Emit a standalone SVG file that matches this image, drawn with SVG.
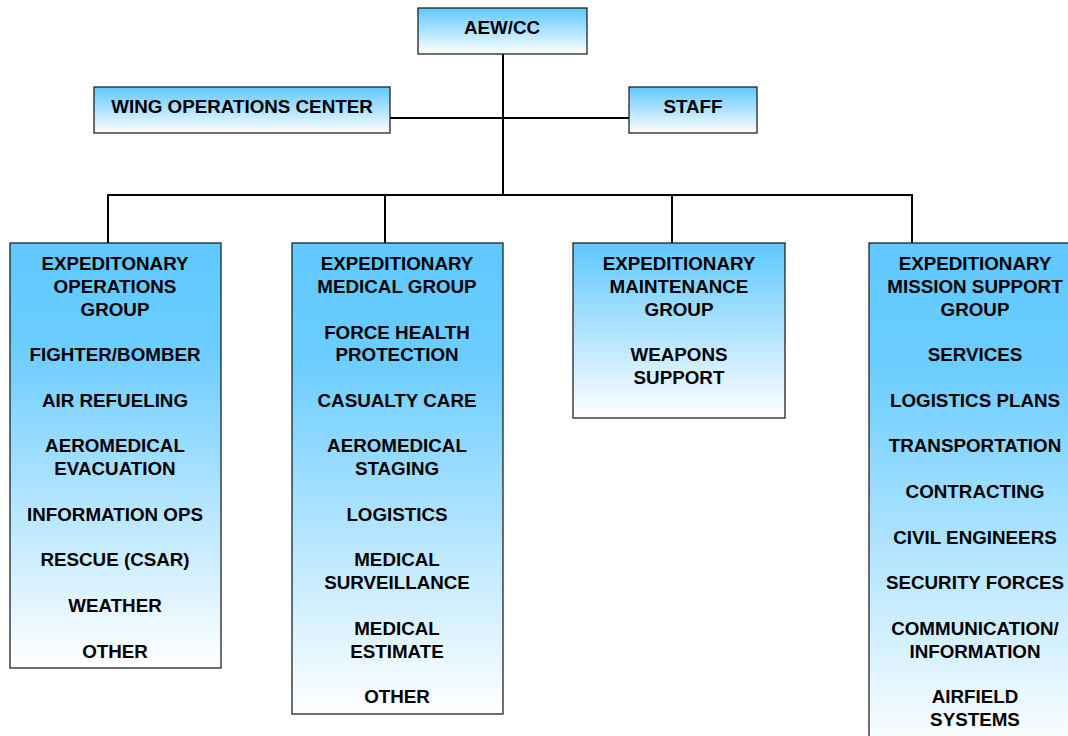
<svg xmlns="http://www.w3.org/2000/svg" width="1068" height="736" viewBox="0 0 1068 736">
<defs>
<linearGradient id="g" x1="0" y1="0" x2="0" y2="1">
<stop offset="0" stop-color="#5FC8FF"/>
<stop offset="1" stop-color="#FFFFFF"/>
</linearGradient>
<linearGradient id="gt" x1="0" y1="0" x2="0" y2="1">
<stop offset="0" stop-color="#5FC8FF"/>
<stop offset="0.25" stop-color="#6CCDFF"/>
<stop offset="1" stop-color="#FFFFFF"/>
</linearGradient>
</defs>
<style>
.s,.t{stroke:#222;stroke-width:1.3}
.s{fill:url(#g)}
.t{fill:url(#gt)}
text{font-family:"Liberation Sans",Arial,sans-serif;font-weight:bold;font-size:18.8px;fill:#000;text-anchor:middle}
.c path{fill:none;stroke:#000;stroke-width:2}
</style>
<rect width="1068" height="736" fill="#fff"/>
<g class="c" id="connectors">
<path d="M503 54V195"/>
<path d="M390 118H629"/>
<path d="M108 243V195H912V243"/>
<path d="M385 195V243"/>
<path d="M672 195V243"/>
</g>
<g id="aew"><rect class="s" x="418" y="8" width="169" height="46"/><text x="502" y="34">AEW/CC</text></g>
<g id="woc"><rect class="s" x="94" y="87" width="296" height="46"/><text x="242" y="113">WING OPERATIONS CENTER</text></g>
<g id="staff"><rect class="s" x="629" y="87" width="128" height="46"/><text x="693" y="113">STAFF</text></g>
<g id="eog"><rect class="t" x="10" y="243" width="211" height="425"/>
<text x="115" y="270">EXPEDITONARY</text><text x="115" y="293">OPERATIONS</text><text x="115" y="316">GROUP</text>
<text x="115" y="361">FIGHTER/BOMBER</text><text x="115" y="407">AIR REFUELING</text>
<text x="115" y="452">AEROMEDICAL</text><text x="115" y="475">EVACUATION</text>
<text x="115" y="521">INFORMATION OPS</text><text x="115" y="566">RESCUE (CSAR)</text>
<text x="115" y="612">WEATHER</text><text x="115" y="658">OTHER</text></g>
<g id="emg"><rect class="t" x="292" y="243" width="211" height="471"/>
<text x="397" y="270">EXPEDITIONARY</text><text x="397" y="293">MEDICAL GROUP</text>
<text x="397" y="339">FORCE HEALTH</text><text x="397" y="361">PROTECTION</text>
<text x="397" y="407">CASUALTY CARE</text>
<text x="397" y="452">AEROMEDICAL</text><text x="397" y="475">STAGING</text>
<text x="397" y="521">LOGISTICS</text>
<text x="397" y="566">MEDICAL</text><text x="397" y="589">SURVEILLANCE</text>
<text x="397" y="635">MEDICAL</text><text x="397" y="658">ESTIMATE</text>
<text x="397" y="703">OTHER</text></g>
<g id="emxg"><rect class="s" x="573" y="243" width="212" height="175"/>
<text x="679" y="270">EXPEDITIONARY</text><text x="679" y="293">MAINTENANCE</text><text x="679" y="316">GROUP</text>
<text x="679" y="361">WEAPONS</text><text x="679" y="384">SUPPORT</text></g>
<g id="emsg"><rect class="t" x="869" y="243" width="210" height="510"/>
<text x="975" y="270">EXPEDITIONARY</text><text x="975" y="293">MISSION SUPPORT</text><text x="975" y="316">GROUP</text>
<text x="975" y="361">SERVICES</text><text x="975" y="407">LOGISTICS PLANS</text>
<text x="975" y="452">TRANSPORTATION</text><text x="975" y="498">CONTRACTING</text>
<text x="975" y="544">CIVIL ENGINEERS</text><text x="975" y="589">SECURITY FORCES</text>
<text x="975" y="635">COMMUNICATION/</text><text x="975" y="658">INFORMATION</text>
<text x="975" y="703">AIRFIELD</text><text x="975" y="726">SYSTEMS</text></g>
</svg>
